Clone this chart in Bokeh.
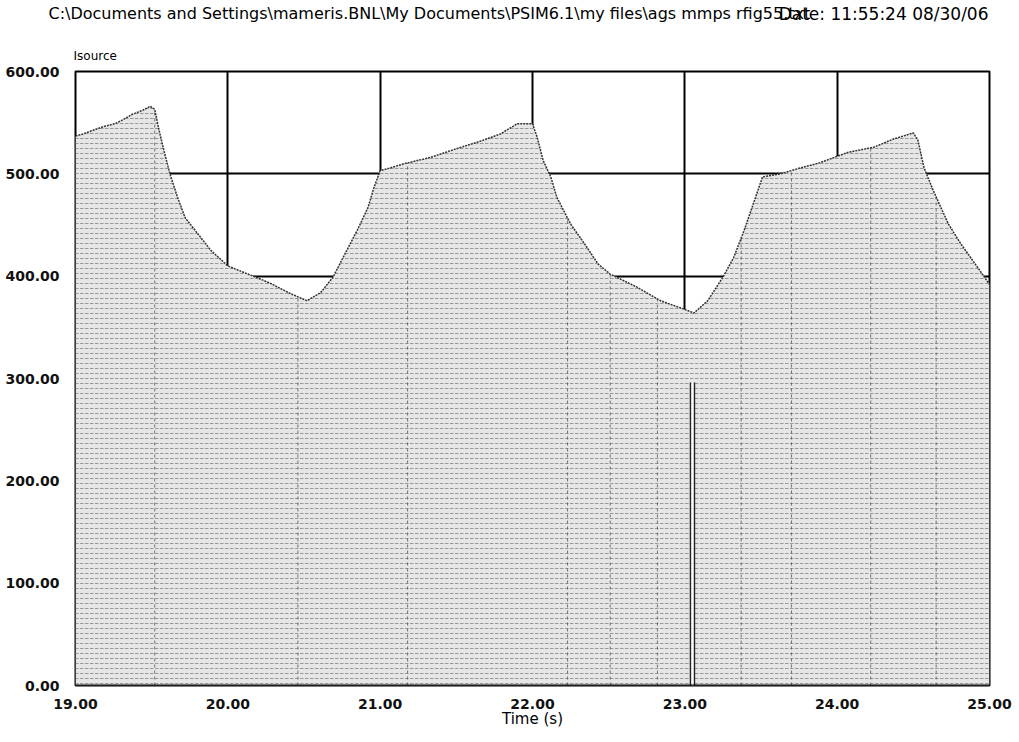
import numpy as np
from bokeh.plotting import figure
from bokeh.models import Range1d, Title, FixedTicker, NumeralTickFormatter, ColumnDataSource
from bokeh.embed import file_html
from bokeh.resources import INLINE

# ---- data ----
t = [19.00, 19.05, 19.18, 19.26, 19.30, 19.37, 19.44, 19.49, 19.52, 19.545, 19.58, 19.62,
     19.67, 19.72, 19.80, 19.89, 20.00, 20.15, 20.28, 20.41, 20.52, 20.61, 20.69, 20.78,
     20.85, 20.92, 20.96, 21.00, 21.07, 21.16, 21.33, 21.51, 21.66, 21.79, 21.90, 22.00,
     22.03, 22.07, 22.12, 22.16, 22.25, 22.34, 22.43, 22.51, 22.69, 22.84, 22.99, 23.06,
     23.15, 23.25, 23.32, 23.39, 23.45, 23.51, 23.63, 23.74, 23.89, 24.07, 24.24, 24.37,
     24.50, 24.53, 24.57, 24.63, 24.73, 24.81, 24.92, 25.00]
isource = [537, 539, 546, 549, 552, 558, 562, 566, 563, 545, 523, 500,
           477, 457, 442, 425, 410, 401, 393, 383, 376, 384, 399, 425,
           445, 467, 487, 503, 506, 510, 516, 525, 532, 539, 549, 549,
           536, 513, 497, 477, 451, 432, 412, 402, 389, 376, 368, 364,
           376, 399, 418, 445, 471, 497, 500, 505, 511, 521, 526, 534,
           540, 533, 506, 484, 451, 432, 409, 392]
spike_t = 23.05
spike_top = 296
streak_t = [19.52, 20.46, 21.18, 22.23, 22.51, 22.82, 23.37, 23.70, 24.22, 24.65]
x_ticks = [19, 20, 21, 22, 23, 24, 25]
y_ticks = [0, 100, 200, 300, 400, 500, 600]

title_path = "C:\\Documents and Settings\\mameris.BNL\\My Documents\\PSIM6.1\\my files\\ags mmps rfig55.txt"
title_date = "Date: 11:55:24 08/30/06"
y_name = "Isource"
x_name = "Time (s)"

FONT = "DejaVu Sans"

p = figure(width=1019, height=742, output_backend="svg", toolbar_location=None,
           x_range=Range1d(19, 25), y_range=Range1d(0, 600),
           min_border_left=75, min_border_right=30, min_border_top=71, min_border_bottom=57)
p.background_fill_color = "white"
p.border_fill_color = "white"
p.outline_line_color = "black"
p.outline_line_width = 2

p.xaxis.ticker = FixedTicker(ticks=x_ticks)
p.yaxis.ticker = FixedTicker(ticks=y_ticks)
p.xaxis.formatter = NumeralTickFormatter(format="0.00")
p.yaxis.formatter = NumeralTickFormatter(format="0.00")
for ax in (p.xaxis, p.yaxis):
    ax.axis_line_color = None
    ax.major_tick_line_color = None
    ax.minor_tick_line_color = None
    ax.major_label_text_font = FONT
    ax.major_label_text_font_size = "14px"
    ax.major_label_text_font_style = "bold"
    ax.major_label_text_color = "#111111"
p.yaxis.major_label_standoff = 10
p.xaxis.major_label_standoff = 7
p.xaxis.axis_label = x_name
p.xaxis.axis_label_text_font = FONT
p.xaxis.axis_label_text_font_style = "normal"
p.xaxis.axis_label_text_font_size = "15px"
p.xaxis.axis_label_text_color = "black"
p.xaxis.axis_label_standoff = -2

p.grid.grid_line_color = "black"
p.grid.grid_line_width = 2
p.grid.grid_line_alpha = 1.0

src = ColumnDataSource(dict(t=t, top=isource, base=[0] * len(t)))
p.varea(x="t", y1="base", y2="top", source=src, fill_color="#e6e6e6",
        hatch_pattern='"', hatch_color="#9a9a9a", hatch_scale=5, hatch_weight=1)

# darker dashed streaks inside the filled area
streak_top = np.interp(streak_t, t, isource)
p.segment(x0=streak_t, y0=[0] * len(streak_t), x1=streak_t, y1=streak_top,
          line_color="#555555", line_width=1, line_dash="3 3", line_alpha=0.8)

p.line(x="t", y="top", source=src, line_color="#333333", line_width=1.5, line_dash="2 1")

# double-line spike near 23 s
dx = 0.013
p.segment(x0=[spike_t - dx, spike_t + dx], y0=[0, 0], x1=[spike_t - dx, spike_t + dx],
          y1=[spike_top, spike_top], line_color="#222222", line_width=1.5)
p.segment(x0=[spike_t], y0=[0], x1=[spike_t], y1=[spike_top], line_color="white", line_width=2)

# bottom baseline
p.line(x=[19, 25], y=[0, 0], line_color="black", line_width=2)

# header texts: signal name just above the frame, file path and date overlapping on top row
p.add_layout(Title(text=y_name, align="left", offset=-2, standoff=18,
                   text_font=FONT, text_font_size="12px", text_font_style="normal",
                   text_color="black"), "above")
p.add_layout(Title(text=title_path, align="left", offset=-27, standoff=-67, vertical_align="top",
                   text_font=FONT, text_font_size="16px", text_font_style="normal",
                   text_color="black"), "above")
p.add_layout(Title(text=title_date, align="right", offset=1, standoff=-67, vertical_align="top",
                   text_font=FONT, text_font_size="17px", text_font_style="normal",
                   text_color="black"), "above")

open("out.html", "w").write(file_html(p, INLINE))
